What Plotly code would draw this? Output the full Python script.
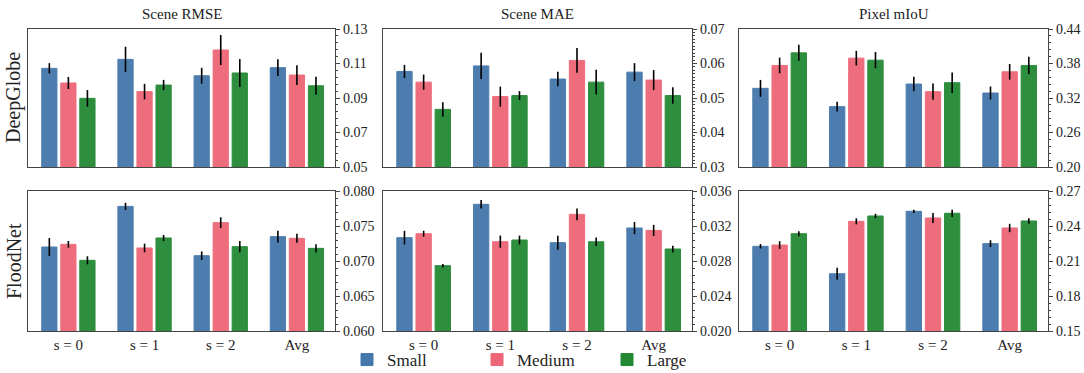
import plotly.graph_objects as go

categories = ["s = 0", "s = 1", "s = 2", "Avg"]
sizes = ["Small", "Medium", "Large"]
colors = {"Small": "#4477AA", "Medium": "#EE6677", "Large": "#228833"}

# DeepGlobe - Scene RMSE
dg_rmse = {"Small": [0.1072, 0.1124, 0.1029, 0.1076],
           "Medium": [0.0987, 0.0937, 0.1178, 0.1033],
           "Large": [0.0898, 0.0975, 0.1045, 0.0971]}
dg_rmse_err = {"Small": [0.0030, 0.0073, 0.0046, 0.0049],
               "Medium": [0.0035, 0.0045, 0.0087, 0.0057],
               "Large": [0.0048, 0.0030, 0.0081, 0.0052]}
# DeepGlobe - Scene MAE
dg_mae = {"Small": [0.0577, 0.0593, 0.0555, 0.0575],
          "Medium": [0.0546, 0.0504, 0.0609, 0.0552],
          "Large": [0.0467, 0.0507, 0.0546, 0.0507]}
dg_mae_err = {"Small": [0.0019, 0.0038, 0.0021, 0.0026],
              "Medium": [0.0022, 0.0029, 0.0036, 0.0029],
              "Large": [0.0021, 0.0013, 0.0036, 0.0024]}
# DeepGlobe - Pixel mIoU
dg_miou = {"Small": [0.3368, 0.3050, 0.3443, 0.3287],
           "Medium": [0.3766, 0.3893, 0.3310, 0.3656],
           "Large": [0.3985, 0.3858, 0.3466, 0.3766]}
dg_miou_err = {"Small": [0.0147, 0.0084, 0.0127, 0.0113],
               "Medium": [0.0136, 0.0127, 0.0141, 0.0136],
               "Large": [0.0139, 0.0141, 0.0179, 0.0153]}
# FloodNet - Scene RMSE
fn_rmse = {"Small": [0.0720, 0.0778, 0.07076, 0.07348],
           "Medium": [0.07238, 0.07186, 0.07548, 0.07324],
           "Large": [0.0701, 0.07329, 0.07205, 0.07181]}
fn_rmse_err = {"Small": [0.00129, 0.00052, 0.00060, 0.00083],
               "Medium": [0.00048, 0.00062, 0.00076, 0.00064],
               "Large": [0.00057, 0.00043, 0.00081, 0.00060]}
# FloodNet - Scene MAE
fn_mae = {"Small": [0.03067, 0.03448, 0.03010, 0.03177],
          "Medium": [0.03112, 0.03021, 0.03333, 0.03150],
          "Large": [0.02747, 0.03040, 0.03020, 0.02937]}
fn_mae_err = {"Small": [0.00078, 0.00048, 0.00080, 0.00070],
              "Medium": [0.00034, 0.00070, 0.00067, 0.00063],
              "Large": [0.00020, 0.00050, 0.00048, 0.00038]}
# FloodNet - Pixel mIoU
fn_miou = {"Small": [0.2226, 0.1991, 0.2526, 0.2249],
           "Medium": [0.2237, 0.2440, 0.2469, 0.2383],
           "Large": [0.2334, 0.2486, 0.2509, 0.2443]}
fn_miou_err = {"Small": [0.0019, 0.0051, 0.0014, 0.0029],
               "Medium": [0.0033, 0.0026, 0.0043, 0.0036],
               "Large": [0.0021, 0.0019, 0.0031, 0.0024]}

titles = ["Scene RMSE", "Scene MAE", "Pixel mIoU"]
row_labels = ["DeepGlobe", "FloodNet"]

panels = [
    (dg_rmse, dg_rmse_err, [0.05, 0.13], 0.02, 0.004, ".2f"),
    (dg_mae, dg_mae_err, [0.03, 0.07], 0.01, 0.001, ".2f"),
    (dg_miou, dg_miou_err, [0.20, 0.44], 0.06, 0.012, ".2f"),
    (fn_rmse, fn_rmse_err, [0.060, 0.080], 0.005, 0.001, ".3f"),
    (fn_mae, fn_mae_err, [0.020, 0.036], 0.004, 0.0008, ".3f"),
    (fn_miou, fn_miou_err, [0.15, 0.27], 0.03, 0.006, ".2f"),
]

W, H = 1084, 373
x_dom_px = [(28, 335), (383, 692), (739, 1048)]
y_dom_px = [(29, 167), (191, 331)]

FONT = "Liberation Serif, Times New Roman, DejaVu Serif, serif"
fig = go.Figure()
layout = {}
for i, (vals, errs, yr, dt, mdt, fmt) in enumerate(panels):
    r, c = divmod(i, 3)
    n = i + 1
    xa = "x" if n == 1 else f"x{n}"
    ya = "y" if n == 1 else f"y{n}"
    for s in sizes:
        fig.add_trace(go.Bar(
            x=categories, y=vals[s], name=s, legendgroup=s, showlegend=(i == 0),
            marker=dict(color=colors[s], opacity=0.95,
                        line=dict(color=colors[s], width=1)),
            error_y=dict(type="data", array=errs[s], color="black", thickness=1.6, width=0),
            xaxis=xa, yaxis=ya, offsetgroup=s,
        ))
    xd = x_dom_px[c]
    yd = y_dom_px[r]
    layout["xaxis" if n == 1 else f"xaxis{n}"] = dict(
        domain=[xd[0] / W, xd[1] / W], anchor=ya, range=[-0.53, 3.5],
        showticklabels=(r == 1), ticks="", showline=True, mirror=True,
        linecolor="#444", linewidth=1.2, showgrid=False, zeroline=False,
        tickfont=dict(family=FONT, size=15, color="#222"),
        type="category",
    )
    layout["yaxis" if n == 1 else f"yaxis{n}"] = dict(
        domain=[1 - yd[1] / H, 1 - yd[0] / H], anchor=xa, range=yr, side="right",
        tick0=yr[0], dtick=dt, tickformat=fmt, ticks="outside", ticklen=4,
        tickcolor="#444", showline=True, mirror=True, linecolor="#444", linewidth=1.2,
        showgrid=False, zeroline=False,
        minor=dict(dtick=mdt, tick0=yr[0], ticks="outside", ticklen=2, tickcolor="#444", showgrid=False),
        tickfont=dict(family=FONT, size=14, color="#222"),
    )

annotations = []
for c, t in enumerate(titles):
    xd = x_dom_px[c]
    annotations.append(dict(text=t, x=(xd[0] + xd[1]) / 2 / W, y=1 - 14 / H, xref="paper", yref="paper",
                            showarrow=False, font=dict(family=FONT, size=15, color="#222"),
                            xanchor="center", yanchor="middle"))
for r, t in enumerate(row_labels):
    yd = y_dom_px[r]
    annotations.append(dict(text=t, x=14 / W, y=1 - (yd[0] + yd[1]) / 2 / H, xref="paper", yref="paper",
                            showarrow=False, textangle=-90, font=dict(family=FONT, size=20, color="#222"),
                            xanchor="center", yanchor="middle"))

fig.update_layout(
    **layout,
    annotations=annotations,
    barmode="group", bargap=0.25, bargroupgap=0.2,
    width=W, height=H, margin=dict(l=0, r=0, t=0, b=0, autoexpand=False),
    paper_bgcolor="white", plot_bgcolor="white",
    legend=dict(orientation="h", x=0.5, xanchor="center", y=1 - 360 / H, yanchor="middle",
                font=dict(family=FONT, size=17, color="#222"), entrywidth=85, itemwidth=30,
                bgcolor="rgba(0,0,0,0)"),
    font=dict(family=FONT),
)
fig.write_html("out.html", config={"displayModeBar": False},
               post_script="document.body.style.margin='0';document.body.style.overflow='hidden';")
